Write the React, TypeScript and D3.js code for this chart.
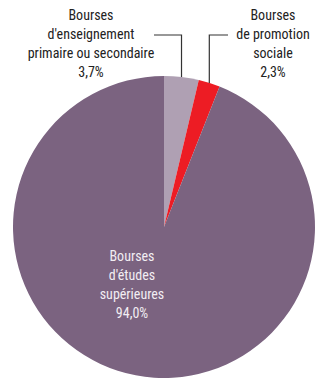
import React from "react";
import * as d3 from "d3";

const categories = [
  "Bourses d'enseignement primaire ou secondaire",
  "Bourses de promotion sociale",
  "Bourses d'études supérieures",
];
const values = [3.7, 2.3, 94.0];
const colors = ["#AFA0B3", "#ED1C24", "#7B6380"];
const labelLines = [
  ["Bourses", "d'enseignement", "primaire ou secondaire", "3,7%"],
  ["Bourses", "de promotion", "sociale", "2,3%"],
  ["Bourses", "d'études", "supérieures", "94,0%"],
];

const W = 325;
const H = 379;
const cx = 164;
const cy = 227;
const R = 151;
const font = "'Liberation Sans Narrow', 'Arial Narrow', 'Roboto Condensed', sans-serif";

export default function App() {
  const pie = d3.pie<number>().sort(null).value((d) => d);
  const arcs = pie(values);
  const arc = d3.arc<d3.PieArcDatum<number>>().innerRadius(0).outerRadius(R);
  const lineY = 35;
  const lh = 19;

  const mid = (a: d3.PieArcDatum<number>) => (a.startAngle + a.endAngle) / 2;
  const edge = (a: d3.PieArcDatum<number>) => {
    const m = mid(a);
    return [cx + R * Math.sin(m), cy - R * Math.cos(m)];
  };
  const e0 = edge(arcs[0]);
  const e1 = edge(arcs[1]);

  return (
    <svg width={W} height={H} style={{ position: "absolute", left: 0, top: 0 }}>
      <rect width={W} height={H} fill="#fff" />
      <g transform={`translate(${cx},${cy})`}>
        {arcs.map((a, i) => (
          <path key={categories[i]} d={arc(a) || ""} fill={colors[i]} />
        ))}
      </g>
      <path
        d={`M154,${lineY}H${e0[0]}V${e0[1]}`}
        fill="none"
        stroke="#333"
        strokeWidth={1.2}
      />
      <path
        d={`M228,${lineY}H${e1[0]}V${e1[1]}`}
        fill="none"
        stroke="#333"
        strokeWidth={1.2}
      />
      <text fontFamily={font} fontSize={14} fill="#222" textAnchor="middle">
        {labelLines[0].map((t, k) => (
          <tspan key={k} x={91} y={20 + k * lh}>{t}</tspan>
        ))}
      </text>
      <text fontFamily={font} fontSize={14} fill="#222" textAnchor="middle">
        {labelLines[1].map((t, k) => (
          <tspan key={k} x={273} y={20 + k * lh}>{t}</tspan>
        ))}
      </text>
      <text fontFamily={font} fontSize={14} fill="#F2EEF3" textAnchor="middle">
        {labelLines[2].map((t, k) => (
          <tspan key={k} x={132} y={261 + k * lh}>{t}</tspan>
        ))}
      </text>
    </svg>
  );
}
